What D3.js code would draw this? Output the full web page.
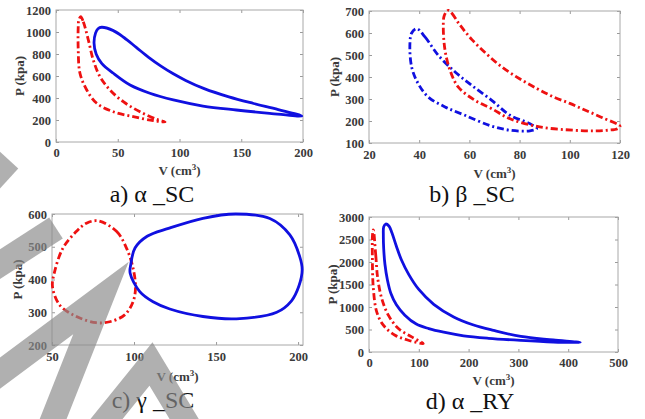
<!DOCTYPE html>
<html>
<head>
<meta charset="utf-8">
<script src="https://cdn.jsdelivr.net/npm/d3@7"></script>
<style>
  body { margin: 0; background: #fff; }
  svg { display: block; }
  text { font-family: "Liberation Serif", "Times New Roman", Times, "DejaVu Serif", serif; }
  .tick text { font-weight: bold; font-size: 12.5px; fill: #3a3a3a; }
  .tick line { stroke: #9a9a9a; }
</style>
</head>
<body>
<div id="chart"></div>
<script>
// P-V loops, [V (cm3), P (kpa)]
// a) alpha SC
const aBlue = [[37,1043],[46,1015],[55,950],[65,860],[75,770],[85,690],[95,620],[105,560],[120,485],[140,410],
  [160,350],[180,295],[199,236],
  [173,261],[146,291],[119,327],[95,382],[76,443],[60,518],[46.4,625],[37,715],[32.5,800],[30.8,900],[32,990],[34,1030]];
const aRed = [[20,1139],[22.1,1094],[26.2,927],[30.2,745],[35.6,594],[43.7,473],[54.5,366],[68,275],[81.5,206],[88.3,182],
  [78.8,194],[62.6,230],[46.4,275],[33,352],[24.9,473],[19.4,625],[18,836],[18,1048],[18.5,1110]];
// b) beta SC
const bBlue = [[39,620],[42.3,582],[47.6,499],[54.3,423],[60.9,362],[68.9,294],[76.2,226],[84.1,188],[86.8,165],
  [84.1,155],[76.2,158],[68.5,178],[58.2,226],[50.3,264],[43.6,309],[39.6,370],[37,445],[36.3,551],[37,600]];
const bRed = [[51.6,703],[53,690],[56,640],[61,570],[67,503],[73,445],[80,392],[87,347],[93,312],[100,280],[106,250],
  [113,215],[120,176],[119,165],[115,158],[110,155],[101.5,158],[88,173],[76.2,210],[68.9,256],[62.2,294],[55.6,354],
  [52.3,430],[50.3,521],[49.6,627],[50,680]];
// c) gamma SC
const cBlue = [[162,600],[182.8,586],[195,536],[201,470],[202.5,430],[200.5,380],[196,335],[187,300],[162.4,280],
  [142,287],[121.8,310],[111.6,332],[103.5,363],[97.6,420],[98,445],[100.6,496],[108,532],[121,556],[142,587]];
const cRed = [[78,579],[89.3,547],[95.4,496],[99.4,435],[100.9,375],[99.4,332],[94.3,292],[85.2,271],[77,268],
  [64.9,287],[54.7,322],[50.3,378],[51.6,424],[56.7,496],[64.9,547],[71,572]];
// d) alpha RY
const dBlue = [[33.5,2844],[40,2800],[46,2650],[55,2350],[65,2050],[80,1720],[100,1390],[130,1060],[170,780],
  [210,600],[250,480],[305,345],[370,268],[424,210],
  [370,222],[305,258],[240,305],[190,360],[150,440],[120,520],[95,620],[72,819],[55,1050],[44,1300],[37,1600],
  [32,1950],[29.5,2300],[28.8,2600],[29.5,2780]];
const dRed = [[8.7,2716],[13.5,2158],[17.5,1638],[25.5,1192],[38.8,819],[59,522],[85.8,335],[109,187],
  [79,261],[52.3,373],[28.8,596],[15.5,893],[8.7,1415],[6.7,2158],[7,2600]];

// tick values
const aXTicks = [0, 50, 100, 150, 200], aYTicks = [0, 200, 400, 600, 800, 1000, 1200];
const bXTicks = [20, 40, 60, 80, 100, 120], bYTicks = [100, 200, 300, 400, 500, 600, 700];
const cXTicks = [50, 100, 150, 200], cYTicks = [200, 300, 400, 500, 600];
const dXTicks = [0, 100, 200, 300, 400, 500], dYTicks = [0, 500, 1000, 1500, 2000, 2500, 3000];

const captions = ['a) α _SC', 'b) β _SC', 'c) γ _SC', 'd) α _RY'];

const blue = '#1010e0', red = '#ee1111';
const dashDot = '7,3,2,3';

let panels = [
  { box: [56, 303, 10, 142], xd: [0, 200], yd: [0, 1200], xt: aXTicks, yt: aYTicks,
    series: [[aRed, red, dashDot], [aBlue, blue, null]], cap: [152, 202], xlab: 175, ylab: 24, pad: 6 },
  { box: [369, 620, 11, 143], xd: [20, 120], yd: [100, 700], xt: bXTicks, yt: bYTicks,
    series: [[bBlue, blue, dashDot], [bRed, red, dashDot]], cap: [472, 202], xlab: 178, ylab: 339, pad: 7.5 },
  { box: [52, 303, 214, 345], xd: [50, 203], yd: [200, 600], xt: cXTicks, yt: cYTicks,
    series: [[cRed, red, dashDot], [cBlue, blue, null]], cap: [153, 408], xlab: 381, ylab: 22, pad: 7.5 },
  { box: [369, 618, 217, 352], xd: [0, 500], yd: [0, 3000], xt: dXTicks, yt: dYTicks,
    series: [[dRed, red, dashDot], [dBlue, blue, null]], cap: [470, 409], xlab: 385, ylab: 337, pad: 6.5 }
];

const svg = d3.select('#chart').append('svg')
  .attr('width', 645).attr('height', 419);

panels.forEach((p, i) => {
  const [l, r, t, b] = p.box;
  const x = d3.scaleLinear().domain(p.xd).range([l, r]);
  const y = d3.scaleLinear().domain(p.yd).range([b, t]);
  const g = svg.append('g');
  const fmt = d3.format('d');

  // inward ticks on all four sides, MATLAB style
  g.append('g').attr('transform', `translate(0,${b})`)
    .call(d3.axisBottom(x).tickValues(p.xt).tickSize(-3).tickPadding(p.pad).tickFormat(fmt));
  g.append('g').attr('transform', `translate(0,${t})`)
    .call(d3.axisTop(x).tickValues(p.xt).tickSize(-3).tickFormat(''));
  g.append('g').attr('transform', `translate(${l},0)`)
    .call(d3.axisLeft(y).tickValues(p.yt).tickSize(-3).tickPadding(5).tickFormat(fmt));
  g.append('g').attr('transform', `translate(${r},0)`)
    .call(d3.axisRight(y).tickValues(p.yt).tickSize(-3).tickFormat(''));
  g.selectAll('.domain').remove();
  g.selectAll('g').attr('font-family', null);

  g.append('rect')
    .attr('x', l).attr('y', t).attr('width', r - l).attr('height', b - t)
    .attr('fill', 'none').attr('stroke', '#a8a8a8').attr('stroke-width', 1);

  const line = d3.line()
    .x(d => x(d[0])).y(d => y(d[1]))
    .curve(d3.curveCatmullRomClosed.alpha(0.5));

  p.series.forEach(([pts, col, dash]) => {
    g.append('path')
      .attr('d', line(pts))
      .attr('fill', 'none')
      .attr('stroke', col)
      .attr('stroke-width', 2.8)
      .attr('stroke-dasharray', dash)
      .attr('stroke-linejoin', 'round');
  });

  // axis titles
  const xt = g.append('text')
    .attr('x', (l + r) / 2).attr('y', p.xlab)
    .attr('text-anchor', 'middle')
    .style('font-weight', 'bold')
    .style('font-size', '13px').style('fill', '#3a3a3a');
  xt.append('tspan').text('V (cm');
  xt.append('tspan').text('3').attr('dy', -5).style('font-size', '9px');
  xt.append('tspan').text(')').attr('dy', 5);

  g.append('text')
    .attr('transform', `translate(${p.ylab},${(t + b) / 2}) rotate(-90)`)
    .attr('text-anchor', 'middle')
    .style('font-weight', 'bold')
    .style('font-size', '13px').style('fill', '#3a3a3a')
    .text('P (kpa)');

  g.append('text')
    .attr('x', p.cap[0]).attr('y', p.cap[1])
    .attr('text-anchor', 'middle')
    .style('font-size', '24px').style('fill', '#111')
    .text(captions[i]);
});

// grey watermark bands over the lower left
const bands = [
  [[-20, 192], [9, 160]],
  [[-12, 272], [56, 228]],
  [[-12, 382], [101, 298], [48, 432]],
  [[96, 432], [151, 364], [192, 432]]
];
svg.append('g').selectAll('path')
  .data(bands)
  .join('path')
  .attr('d', d3.line())
  .attr('fill', 'none')
  .attr('stroke', '#8a8a8a')
  .attr('stroke-opacity', 0.68)
  .attr('stroke-width', 25)
  .attr('stroke-linejoin', 'miter');
</script>
</body>
</html>
